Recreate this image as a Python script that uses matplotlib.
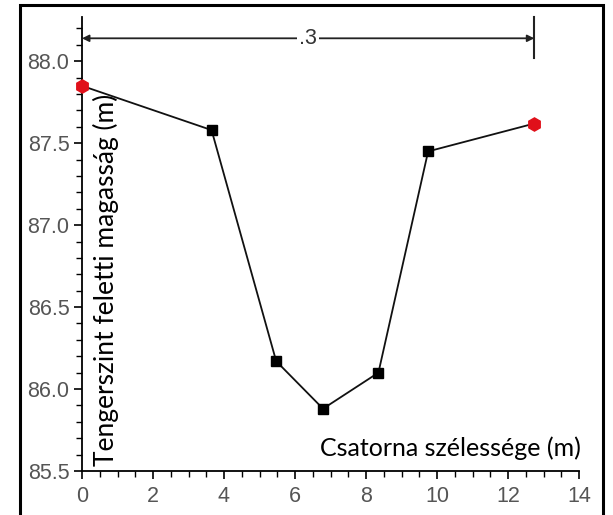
import matplotlib
matplotlib.use("Agg")
import matplotlib.pyplot as plt
from matplotlib.patches import Rectangle
from matplotlib.ticker import MultipleLocator, FormatStrFormatter

# ---- data ----
x_vals = [0.0, 3.65, 5.47, 6.79, 8.35, 9.75, 12.74]
y_vals = [87.85, 87.58, 86.17, 85.88, 86.10, 87.45, 87.62]
end_x = [x_vals[0], x_vals[-1]]
end_y = [y_vals[0], y_vals[-1]]
mid_x = x_vals[1:-1]
mid_y = y_vals[1:-1]
dim_label = ".3"
dim_level = 88.14
dim_bar_bottom = 88.02
xlabel = "Csatorna szélessége (m)"
ylabel = "Tengerszint feletti magasság (m)"

W, H = 613, 515
fig = plt.figure(figsize=(W / 100, H / 100), dpi=100)
fig.patch.set_facecolor("white")

ax = fig.add_axes([82 / W, (H - 471) / H, 497 / W, 454 / H])
ax.set_xlim(0, 14)
ax.set_ylim(85.5, 88.27)

for s in ["top", "right"]:
    ax.spines[s].set_visible(False)
for s in ["left", "bottom"]:
    ax.spines[s].set_linewidth(1.3)
    ax.spines[s].set_color("black")

ax.xaxis.set_major_locator(MultipleLocator(2))
ax.xaxis.set_minor_locator(MultipleLocator(0.5))
ax.yaxis.set_major_locator(MultipleLocator(0.5))
ax.yaxis.set_minor_locator(MultipleLocator(0.1))
ax.yaxis.set_major_formatter(FormatStrFormatter("%.1f"))
ax.xaxis.set_major_formatter(FormatStrFormatter("%d"))

ax.tick_params(axis="both", which="major", direction="out", length=6, width=1.2,
               labelsize=15.5, labelcolor="#555555", color="black")
ax.tick_params(axis="both", which="minor", direction="out", length=4, width=1.0, color="black")
ax.tick_params(axis="x", which="major", pad=5)
ax.tick_params(axis="y", which="major", pad=3)
for lab in ax.get_xticklabels() + ax.get_yticklabels():
    lab.set_fontfamily("Liberation Sans")

# profile line and markers
ax.plot(x_vals, y_vals, color="#111111", lw=1.3, zorder=2, clip_on=False)
ax.plot(mid_x, mid_y, "s", ms=7, color="black", zorder=3, clip_on=False)
ax.plot(end_x, end_y, "h", ms=9.5, color="#e0101a", zorder=4, clip_on=False)

# dimension line
ax.annotate("", xy=(0, dim_level), xytext=(end_x[1], dim_level),
            arrowprops=dict(arrowstyle="<|-|>", color="#222222", lw=1.3,
                            shrinkA=0, shrinkB=0, mutation_scale=10),
            annotation_clip=False)
ax.plot([end_x[1], end_x[1]], [dim_bar_bottom, 88.27], color="#222222", lw=1.5, clip_on=False)
ax.text((end_x[0] + end_x[1]) / 2, dim_level, dim_label, ha="center", va="center",
        fontsize=15.5, color="#333333", family="Liberation Sans",
        bbox=dict(facecolor="white", edgecolor="none", pad=1.5), zorder=5)

# axis labels inside plot
fig.text(581 / W, (H - 456) / H, xlabel, ha="right", va="baseline",
         fontsize=18, family="Lato", color="black")
fig.text(114 / W, (H - 466) / H, ylabel, rotation=90, rotation_mode="anchor",
         ha="left", va="baseline", fontsize=19, family="Lato", color="black")

# outer frame
fig.patches.append(Rectangle((20 / W, -0.05), (603 - 20) / W, (H - 5) / H + 0.05,
                             transform=fig.transFigure, fill=False,
                             edgecolor="black", lw=2.2, zorder=10))

fig.savefig("out.png", dpi=100, facecolor="white")
